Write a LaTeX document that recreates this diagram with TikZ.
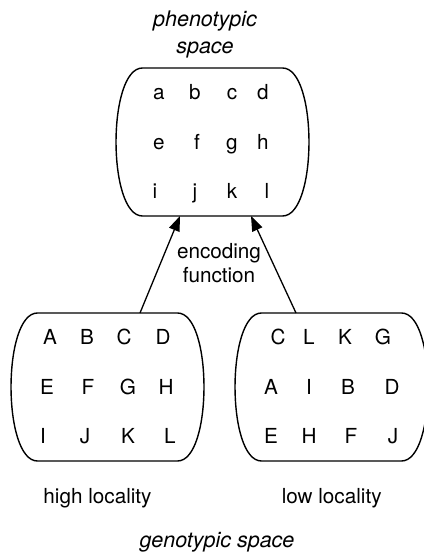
\documentclass[tikz,border=0pt]{standalone}
\usepackage{fontspec}
\setmainfont{TeX Gyre Heros}
\usetikzlibrary{arrows.meta}
\tikzset{
  boxline/.style={line width=1.4pt, black},
  conn/.style={line width=1.3pt, black, -{Triangle[length=15pt,width=11pt]}},
  lbl/.style={anchor=base, inner sep=0pt, font=\fontsize{20.7}{24}\selectfont},
  ilbl/.style={lbl, font=\fontsize{21.5}{24}\selectfont\itshape},
  barrel/.pic={
    \draw[boxline] (-70,74) -- (70,74)
      .. controls (105.3,74) and (105.3,-74) .. (70,-74)
      -- (-70,-74)
      .. controls (-105.3,-74) and (-105.3,74) .. (-70,74) -- cycle;
  }
}
\begin{document}
\begin{tikzpicture}[x=1pt,y=1pt]
\useasboundingbox (0,0) rectangle (423,559);
% boxes
\pic at (212.5,417) {barrel};
\pic at (107.5,172) {barrel};
\pic at (331.5,172) {barrel};
\coordinate (phenoL) at (180,343);
\coordinate (phenoR) at (251,343);
\coordinate (highT) at (140,246);
\coordinate (lowT) at (296,246);
% titles
\node[ilbl] (pt1) at (205,532.5) {phenotypic};
\node[ilbl] (pt2) at (205,505.5) {space};
\node[lbl] (enc1) at (219,300) {encoding};
\node[lbl] (enc2) at (219,276.5) {function};
\node[lbl] (hl) at (97.5,55) {high locality};
\node[lbl] (ll) at (331.7,55) {low locality};
\node[ilbl] (gs) at (217,12) {genotypic space};
% phenotypic letters
\node[lbl] (pa) at (159,459) {a};
\node[lbl] (pb) at (195,459) {b};
\node[lbl] (pc) at (232,459) {c};
\node[lbl] (pd) at (263,459) {d};
\node[lbl] (pe) at (159,409.5) {e};
\node[lbl] (pf) at (197,409.5) {f};
\node[lbl] (pg) at (232,409.5) {g};
\node[lbl] (ph) at (263,409.5) {h};
\node[lbl] (pi) at (155,360) {i};
\node[lbl] (pj) at (195,360) {j};
\node[lbl] (pk) at (232,360) {k};
\node[lbl] (pl) at (267,360) {l};
% high locality letters
\node[lbl] (hA) at (50,214) {A};
\node[lbl] (hB) at (87,214) {B};
\node[lbl] (hC) at (124,214) {C};
\node[lbl] (hD) at (163,214) {D};
\node[lbl] (hE) at (47,164.5) {E};
\node[lbl] (hF) at (88,164.5) {F};
\node[lbl] (hG) at (128,164.5) {G};
\node[lbl] (hH) at (166,164.5) {H};
\node[lbl] (hI) at (43,115) {I};
\node[lbl] (hJ) at (85,115) {J};
\node[lbl] (hK) at (128,115) {K};
\node[lbl] (hL) at (170,115) {L};
% low locality letters
\node[lbl] (lC) at (278,214) {C};
\node[lbl] (lL) at (309,214) {L};
\node[lbl] (lK) at (345,214) {K};
\node[lbl] (lG) at (383,214) {G};
\node[lbl] (lA) at (271,164.5) {A};
\node[lbl] (lI) at (309,164.5) {I};
\node[lbl] (lB) at (348,164.5) {B};
\node[lbl] (lD) at (392,164.5) {D};
\node[lbl] (lE) at (271,115) {E};
\node[lbl] (lH) at (309,115) {H};
\node[lbl] (lF) at (351,115) {F};
\node[lbl] (lJ) at (393,115) {J};
% connectors
\draw[conn] (highT) -- (phenoL);
\draw[conn] (lowT) -- (phenoR);
\end{tikzpicture}
\end{document}
